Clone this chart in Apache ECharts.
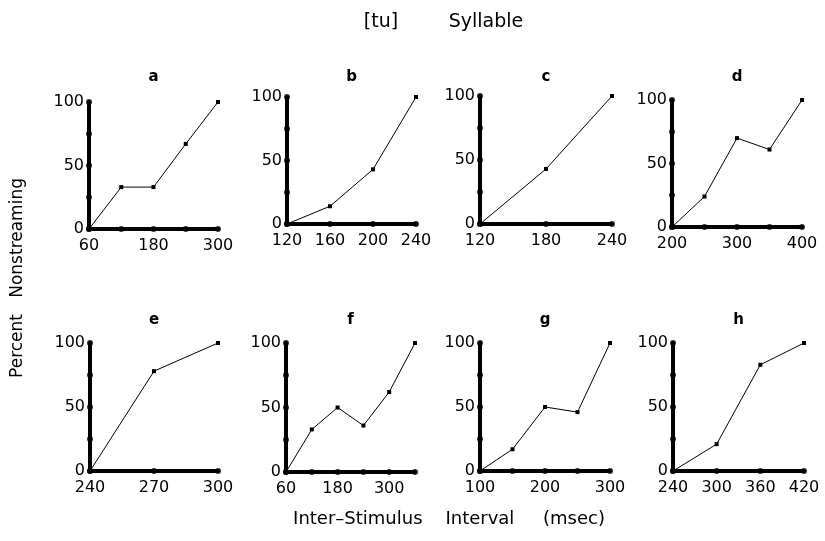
<!DOCTYPE html>
<html>
<head>
<meta charset="utf-8">
<script src="https://cdn.jsdelivr.net/npm/echarts@6/dist/echarts.min.js"></script>
<style>
html, body { margin: 0; background: #fff; }
#main { width: 825px; height: 541px; }
</style>
</head>
<body>
<div id="main"></div>
<script>
// panel letters
var panelNames = ['a', 'b', 'c', 'd', 'e', 'f', 'g', 'h'];

// inter-stimulus interval (msec) and percent nonstreaming, per panel
var xA = [60, 120, 180, 240, 300];
var yA = [0, 33, 33, 67, 100];
var xB = [120, 160, 200, 240];
var yB = [0, 14, 43, 100];
var xC = [120, 180, 240];
var yC = [0, 43, 100];
var xD = [200, 250, 300, 350, 400];
var yD = [0, 24, 70, 61, 100];
var xE = [240, 270, 300];
var yE = [0, 78, 100];
var xF = [60, 120, 180, 240, 300, 360];
var yF = [0, 33, 50, 36, 62, 100];
var xG = [100, 150, 200, 250, 300];
var yG = [0, 17, 50, 46, 100];
var xH = [240, 300, 360, 420];
var yH = [0, 21, 83, 100];

// x axis ticks (dots) and which of them carry a label
var xTicks = [
    [60, 120, 180, 240, 300],
    [120, 160, 200, 240],
    [120, 180, 240],
    [200, 250, 300, 350, 400],
    [240, 270, 300],
    [60, 120, 180, 240, 300, 360],
    [100, 150, 200, 250, 300],
    [240, 300, 360, 420]
];
var xLabels = [
    [60, 180, 300],
    [120, 160, 200, 240],
    [120, 180, 240],
    [200, 300, 400],
    [240, 270, 300],
    [60, 180, 300],
    [100, 200, 300],
    [240, 300, 360, 420]
];
var xStep = [60, 40, 60, 50, 30, 60, 50, 60];

// y axis ticks and labels
var yTicks = [0, 25, 50, 75, 100];
var yLabels = [0, 50, 100];

var xs = [xA, xB, xC, xD, xE, xF, xG, xH];
var ys = [yA, yB, yC, yD, yE, yF, yG, yH];

// grid boxes: [left, top, width, height]
var boxes = [
    [89, 102, 129, 127],
    [287, 97, 129, 127],
    [480, 96, 132, 128],
    [672, 100, 130, 127],
    [90, 343, 128, 128],
    [286, 343, 129, 129],
    [480, 343, 130, 128],
    [673, 343, 131, 128]
];
var letterY = [77, 77, 77, 77, 320, 320, 320, 320];

var FONT = '"DejaVu Sans", sans-serif';

var grids = [], xAxes = [], yAxes = [], series = [], graphics = [];

for (var i = 0; i < 8; i++) {
    var b = boxes[i];
    grids.push({ left: b[0], top: b[1], width: b[2], height: b[3] });

    (function(k) {
        xAxes.push({
            type: 'value',
            gridIndex: k,
            min: xTicks[k][0],
            max: xTicks[k][xTicks[k].length - 1],
            interval: xStep[k],
            axisLine: { onZero: false, lineStyle: { color: '#000', width: 4 } },
            axisTick: { show: false },
            splitLine: { show: false },
            axisLabel: {
                color: '#000',
                fontFamily: FONT,
                fontSize: 16,
                margin: 9,
                formatter: function(v) {
                    return xLabels[k].indexOf(v) >= 0 ? String(v) : '';
                }
            }
        });
        yAxes.push({
            type: 'value',
            gridIndex: k,
            min: 0,
            max: 100,
            interval: 25,
            axisLine: { onZero: false, lineStyle: { color: '#000', width: 4 } },
            axisTick: { show: false },
            splitLine: { show: false },
            axisLabel: {
                color: '#000',
                fontFamily: FONT,
                fontSize: 16,
                margin: 5,
                formatter: function(v) {
                    return yLabels.indexOf(v) >= 0 ? String(v) : '';
                }
            }
        });
    })(i);

    var pts = [];
    for (var j = 0; j < xs[i].length; j++) {
        pts.push([xs[i][j], ys[i][j]]);
    }
    series.push({
        type: 'line',
        xAxisIndex: i,
        yAxisIndex: i,
        data: pts,
        symbol: 'rect',
        symbolSize: 4,
        itemStyle: { color: '#000' },
        lineStyle: { color: '#000', width: 1 },
        z: 3,
        clip: false
    });

    // dots on the axes at every tick
    series.push({
        type: 'scatter',
        xAxisIndex: i,
        yAxisIndex: i,
        data: xTicks[i].map(function(v) { return [v, 0]; }),
        symbolSize: 6,
        itemStyle: { color: '#000' },
        clip: false,
        z: 4
    });
    var x0 = xTicks[i][0];
    series.push({
        type: 'scatter',
        xAxisIndex: i,
        yAxisIndex: i,
        data: yTicks.map(function(v) { return [x0, v]; }),
        symbolSize: 6,
        itemStyle: { color: '#000' },
        clip: false,
        z: 4
    });

    graphics.push({
        type: 'text',
        x: b[0] + b[2] / 2,
        y: letterY[i],
        style: {
            text: panelNames[i],
            font: 'bold 15px ' + FONT,
            fill: '#000',
            textAlign: 'center',
            textVerticalAlign: 'middle'
        }
    });
}

// figure title, in two parts
graphics.push({
    type: 'text',
    x: 381,
    y: 22,
    style: {
        text: '[tu]',
        font: '19px ' + FONT,
        fill: '#000',
        textAlign: 'center',
        textVerticalAlign: 'middle'
    }
});
graphics.push({
    type: 'text',
    x: 486,
    y: 22,
    style: {
        text: 'Syllable',
        font: '19px ' + FONT,
        fill: '#000',
        textAlign: 'center',
        textVerticalAlign: 'middle'
    }
});
graphics.push({
    type: 'text',
    x: 449,
    y: 519,
    style: {
        text: 'Inter\u2013Stimulus    Interval     (msec)',
        font: '18px ' + FONT,
        fill: '#000',
        textAlign: 'center',
        textVerticalAlign: 'middle'
    }
});
graphics.push({
    type: 'text',
    x: 18,
    y: 278,
    rotation: Math.PI / 2,
    style: {
        text: 'Percent   Nonstreaming',
        font: '17px ' + FONT,
        fill: '#000',
        textAlign: 'center',
        textVerticalAlign: 'middle'
    }
});

var option = {
    backgroundColor: '#fff',
    animation: false,
    grid: grids,
    xAxis: xAxes,
    yAxis: yAxes,
    series: series,
    graphic: graphics
};

var chart = echarts.init(document.getElementById('main'), null, { renderer: 'canvas' });
chart.setOption(option);
</script>
</body>
</html>
